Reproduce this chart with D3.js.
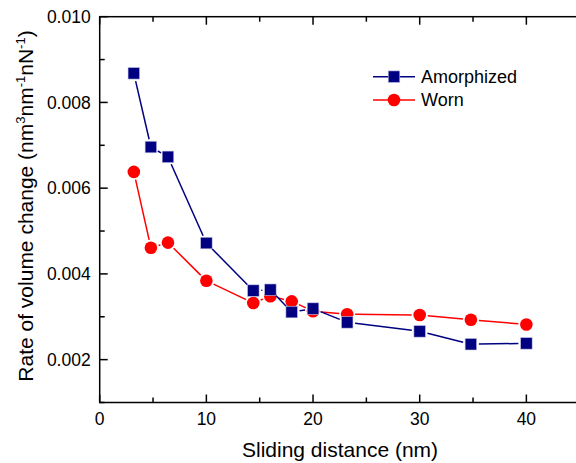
<!DOCTYPE html>
<html>
<head>
<meta charset="utf-8">
<script src="https://cdn.jsdelivr.net/npm/d3@7"></script>
<style>
    body { margin: 0; background: #fff; }
    svg { display: block; font-family: "Liberation Sans", Arial, sans-serif; }
</style>
</head>
<body>
<div id="chart"></div>
<script>
var distance = [3.2, 4.8, 6.4, 10, 14.4, 16, 18, 20, 23.2, 30, 34.8, 40];
var amorphized = [0.00868, 0.00696, 0.00673, 0.00472, 0.00361, 0.00363, 0.00311, 0.00319, 0.00287, 0.00266, 0.00236, 0.00238];
var worn = [0.00638, 0.00461, 0.00473, 0.00384, 0.00332, 0.00348, 0.00336, 0.00313, 0.00306, 0.00304, 0.00293, 0.00282];
var xTicks = [0, 10, 20, 30, 40];
var yTicks = [0.002, 0.004, 0.006, 0.008, 0.010];

(function () {
    'use strict';

    var w = 576,
        h = 463;

    var svg = d3.select('#chart')
        .append('svg')
        .attr('width', w)
        .attr('height', h);

    var x = d3.scaleLinear().domain([0, 45]).range([99.7, 579.7]),
        y = d3.scaleLinear().domain([0.001, 0.010]).range([402.5, 16.7]);

    var x0 = x.range()[0], x1 = x.range()[1],
        y0 = y.range()[0], y1 = y.range()[1];

    var major = 8, minor = 5;
    var xMinor = d3.range(5, 45, 10),
        yMinor = d3.range(0.001, 0.0095, 0.002);

    var frame = svg.append('g')
        .attr('stroke', '#000')
        .attr('stroke-width', 1.5)
        .attr('fill', 'none');

    // frame lines
    frame.append('rect')
        .attr('x', x0).attr('y', y1)
        .attr('width', x1 - x0).attr('height', y0 - y1);

    // ticks all point inward
    function xTick(v, len) {
        frame.append('line')
            .attr('x1', x(v)).attr('x2', x(v))
            .attr('y1', y0).attr('y2', y0 - len);
        frame.append('line')
            .attr('x1', x(v)).attr('x2', x(v))
            .attr('y1', y1).attr('y2', y1 + len);
    }
    function yTick(v, len) {
        frame.append('line')
            .attr('x1', x0).attr('x2', x0 + len)
            .attr('y1', y(v)).attr('y2', y(v));
    }
    xTicks.forEach(function (v) { xTick(v, major); });
    xMinor.forEach(function (v) { xTick(v, minor); });
    yTicks.forEach(function (v) { yTick(v, major); });
    yMinor.forEach(function (v) { yTick(v, minor); });

    svg.append('g').selectAll('text')
        .data(xTicks)
        .enter().append('text')
        .attr('x', function (d) { return x(d); })
        .attr('y', y0 + 22)
        .attr('text-anchor', 'middle')
        .style('font-size', '17.5px')
        .text(function (d) { return d; });

    svg.append('g').selectAll('text')
        .data(yTicks)
        .enter().append('text')
        .attr('x', x0 - 9)
        .attr('y', function (d) { return y(d); })
        .attr('dy', '0.35em')
        .attr('text-anchor', 'end')
        .style('font-size', '17.5px')
        .text(function (d) { return d3.format('.3f')(d); });

    svg.append('text')
        .attr('x', (x(0) + x(40)) / 2 + 27)
        .attr('y', 457)
        .attr('text-anchor', 'middle')
        .style('font-size', '21px')
        .text('Sliding distance (nm)');

    var yt = svg.append('text')
        .attr('transform', 'translate(33,206) rotate(-90)')
        .attr('text-anchor', 'middle')
        .style('font-size', '21px');
    yt.append('tspan').text('Rate of volume change (nm');
    yt.append('tspan').attr('dy', -8).style('font-size', '13px').text('3');
    yt.append('tspan').attr('dy', 8).text('nm');
    yt.append('tspan').attr('dy', -8).style('font-size', '13px').text('-1');
    yt.append('tspan').attr('dy', 8).text('nN');
    yt.append('tspan').attr('dy', -8).style('font-size', '13px').text('-1');
    yt.append('tspan').attr('dy', 8).text(')');

    var series = [
        { id: 'Worn', values: worn, color: '#ff0000', shape: 'circle' },
        { id: 'Amorphized', values: amorphized, color: '#000080', shape: 'square' }
    ];

    function marker(g, cx, cy, s) {
        if (s.shape === 'circle') {
            g.append('circle')
                .attr('cx', cx).attr('cy', cy).attr('r', 6.3)
                .attr('fill', s.color);
        } else {
            g.append('rect')
                .attr('x', cx - 5.8).attr('y', cy - 5.8)
                .attr('width', 11.6).attr('height', 11.6)
                .attr('fill', s.color)
                .attr('stroke', '#c8cce8').attr('stroke-width', 0.6);
        }
    }

    // segments stop short of the symbols, like the original plot
    var gap = 8;
    series.forEach(function (s) {
        var g = svg.append('g');
        var pts = distance.map(function (d, i) { return [x(d), y(s.values[i])]; });
        for (var i = 1; i < pts.length; i++) {
            var a = pts[i - 1], b = pts[i];
            var dx = b[0] - a[0], dy = b[1] - a[1];
            var len = Math.sqrt(dx * dx + dy * dy);
            if (len <= 2 * gap) continue;
            var ux = dx / len, uy = dy / len;
            g.append('line')
                .attr('x1', a[0] + ux * gap).attr('y1', a[1] + uy * gap)
                .attr('x2', b[0] - ux * gap).attr('y2', b[1] - uy * gap)
                .attr('stroke', s.color)
                .attr('stroke-width', 1.5);
        }
        pts.forEach(function (p) { marker(g, p[0], p[1], s); });
    });

    // legend
    var legend = [series[1], series[0]];
    legend.forEach(function (s, i) {
        var ly = 76.7 + i * 23.3;
        var g = svg.append('g');
        g.append('line')
            .attr('x1', 373).attr('x2', 415)
            .attr('y1', ly).attr('y2', ly)
            .attr('stroke', s.color).attr('stroke-width', 1.5);
        marker(g, 394, ly, s);
        g.append('text')
            .attr('x', 421).attr('y', ly)
            .attr('dy', '0.35em')
            .style('font-size', '18px')
            .text(s.id);
    });
})();
</script>
</body>
</html>
